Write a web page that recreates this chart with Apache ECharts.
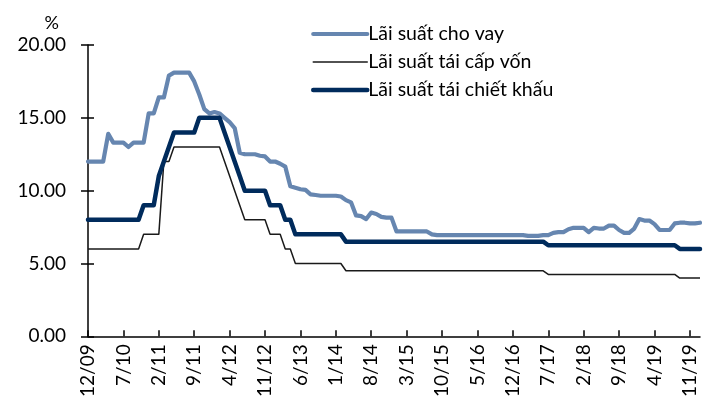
<!DOCTYPE html>
<html>
<head>
<meta charset="utf-8">
<script src="https://cdn.jsdelivr.net/npm/echarts@6/dist/echarts.min.js"></script>
<style>
  html, body { margin: 0; padding: 0; background: #fff; }
  #chart { width: 707px; height: 400px; }
</style>
</head>
<body>
<div id="chart"></div>
<script>
// tháng 12/09 -> 1/20
var months = [];
(function () {
    var m = 12, y = 9;
    for (var i = 0; i < 122; i++) {
        months.push(m + "/" + (y < 10 ? "0" + y : y));
        m++;
        if (m > 12) { m = 1; y++; }
    }
})();

var lendingRate = [
    12.0, 12.0, 12.0, 12.0, 13.9, 13.3, 13.3, 13.3, 13.0, 13.3, 13.3, 13.3,
    15.3, 15.3, 16.4, 16.4, 17.9, 18.1, 18.1, 18.1, 18.1, 17.5, 16.6, 15.6,
    15.3, 15.4, 15.3, 15.0, 14.7, 14.3, 12.6, 12.5, 12.5, 12.5, 12.4, 12.35,
    12.0, 12.0, 11.85, 11.65, 10.3, 10.2, 10.1, 10.05, 9.75, 9.7, 9.65, 9.65,
    9.65, 9.65, 9.6, 9.35, 9.2, 8.3, 8.25, 8.05, 8.5, 8.4, 8.2, 8.15,
    8.15, 7.2, 7.2, 7.2, 7.2, 7.2, 7.2, 7.2, 7.0, 6.95, 6.95, 6.95,
    6.95, 6.95, 6.95, 6.95, 6.95, 6.95, 6.95, 6.95, 6.95, 6.95, 6.95, 6.95,
    6.95, 6.95, 6.95, 6.9, 6.9, 6.9, 6.95, 6.95, 7.1, 7.15, 7.15, 7.35,
    7.45, 7.45, 7.45, 7.15, 7.45, 7.4, 7.4, 7.6, 7.6, 7.3, 7.1, 7.1,
    7.4, 8.05, 7.95, 7.95, 7.7, 7.3, 7.3, 7.3, 7.75, 7.8, 7.8, 7.75,
    7.75, 7.8
];

var refinanceRate = [
    6, 6, 6, 6, 6, 6, 6, 6, 6, 6, 6, 7,
    7, 7, 7, 12, 12, 13, 13, 13, 13, 13, 13, 13,
    13, 13, 13, 12, 11, 10, 9, 8, 8, 8, 8, 8,
    7, 7, 7, 6, 6, 5, 5, 5, 5, 5, 5, 5,
    5, 5, 5, 4.5, 4.5, 4.5, 4.5, 4.5, 4.5, 4.5, 4.5, 4.5,
    4.5, 4.5, 4.5, 4.5, 4.5, 4.5, 4.5, 4.5, 4.5, 4.5, 4.5, 4.5,
    4.5, 4.5, 4.5, 4.5, 4.5, 4.5, 4.5, 4.5, 4.5, 4.5, 4.5, 4.5,
    4.5, 4.5, 4.5, 4.5, 4.5, 4.5, 4.5, 4.25, 4.25, 4.25, 4.25, 4.25,
    4.25, 4.25, 4.25, 4.25, 4.25, 4.25, 4.25, 4.25, 4.25, 4.25, 4.25, 4.25,
    4.25, 4.25, 4.25, 4.25, 4.25, 4.25, 4.25, 4.25, 4.25, 4, 4, 4,
    4, 4
];

var discountRate = [
    8, 8, 8, 8, 8, 8, 8, 8, 8, 8, 8, 9,
    9, 9, 11, 12, 13, 14, 14, 14, 14, 14, 15, 15,
    15, 15, 15, 14, 13, 12, 11, 10, 10, 10, 10, 10,
    9, 9, 9, 8, 8, 7, 7, 7, 7, 7, 7, 7,
    7, 7, 7, 6.5, 6.5, 6.5, 6.5, 6.5, 6.5, 6.5, 6.5, 6.5,
    6.5, 6.5, 6.5, 6.5, 6.5, 6.5, 6.5, 6.5, 6.5, 6.5, 6.5, 6.5,
    6.5, 6.5, 6.5, 6.5, 6.5, 6.5, 6.5, 6.5, 6.5, 6.5, 6.5, 6.5,
    6.5, 6.5, 6.5, 6.5, 6.5, 6.5, 6.5, 6.25, 6.25, 6.25, 6.25, 6.25,
    6.25, 6.25, 6.25, 6.25, 6.25, 6.25, 6.25, 6.25, 6.25, 6.25, 6.25, 6.25,
    6.25, 6.25, 6.25, 6.25, 6.25, 6.25, 6.25, 6.25, 6.25, 6, 6, 6,
    6, 6
];

var seriesNames = ["Lãi suất cho vay", "Lãi suất tái cấp vốn", "Lãi suất tái chiết khấu"];
var seriesColors = ["#6686b0", "#1a1a1a", "#002b5c"];
var lineWidths = [4.2, 1.5, 4.5];

var font = "Lato, 'Noto Sans', sans-serif";

var chart = echarts.init(document.getElementById("chart"));
chart.setOption({
    animation: false,
    textStyle: { fontFamily: font, color: "#000" },
    grid: { left: 88, right: 7, top: 45, bottom: 63 },
    legend: {
        orient: "vertical",
        left: 306,
        top: 19,
        itemWidth: 54,
        itemHeight: 14,
        itemGap: 8,
        itemStyle: { opacity: 0 },
        textStyle: { fontSize: 19.5, color: "#000", padding: [0, 0, 0, -4] },
        data: seriesNames.map(function (n, i) {
            return { name: n, lineStyle: { width: lineWidths[i], color: seriesColors[i], cap: "round" } };
        })
    },
    xAxis: {
        type: "category",
        boundaryGap: false,
        data: months,
        axisLine: { lineStyle: { color: "#000", width: 1.5 } },
        axisTick: { inside: true, length: 6, interval: 6, lineStyle: { color: "#000", width: 1.5 } },
        axisLabel: { interval: 6, rotate: 90, fontSize: 19, color: "#000", margin: 8 },
        splitLine: { show: false }
    },
    yAxis: [{
        type: "value",
        min: 0,
        max: 20,
        interval: 5,
        name: "%",
        nameLocation: "end",
        nameGap: 13,
        nameTextStyle: { fontSize: 18, color: "#000", align: "right", padding: [0, 29, 0, 0] },
        axisLine: { show: true, lineStyle: { color: "#000", width: 1.5 } },
        axisTick: { show: true, length: 7, lineStyle: { color: "#000", width: 1.5 } },
        axisLabel: { fontSize: 19, color: "#000", margin: 22, formatter: function (v) { return v.toFixed(2); } },
        splitLine: { show: false }
    }, {
        type: "value",
        position: "left",
        min: 0,
        max: 20,
        interval: 5,
        axisLine: { show: false },
        axisTick: { show: true, inside: true, length: 6, lineStyle: { color: "#000", width: 1.5 } },
        axisLabel: { show: false },
        splitLine: { show: false }
    }],
    series: [{
        name: seriesNames[0],
        type: "line",
        data: lendingRate,
        symbol: "none",
        lineStyle: { color: seriesColors[0], width: lineWidths[0], cap: "round", join: "round" },
        itemStyle: { color: seriesColors[0] },
        z: 2
    }, {
        name: seriesNames[1],
        type: "line",
        data: refinanceRate,
        symbol: "none",
        lineStyle: { color: seriesColors[1], width: lineWidths[1] },
        itemStyle: { color: seriesColors[1] },
        z: 3
    }, {
        name: seriesNames[2],
        type: "line",
        data: discountRate,
        symbol: "none",
        lineStyle: { color: seriesColors[2], width: lineWidths[2], cap: "round", join: "round" },
        itemStyle: { color: seriesColors[2] },
        z: 4
    }]
});
</script>
</body>
</html>
